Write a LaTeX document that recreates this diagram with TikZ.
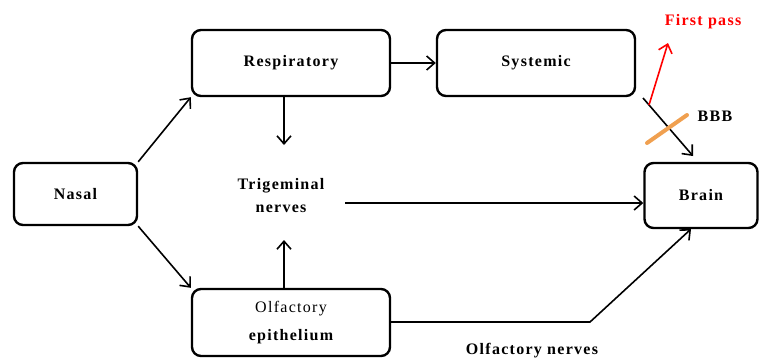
\documentclass[tikz,border=0pt]{standalone}
\usepackage{fontspec}
\setmainfont[LetterSpace=8]{Liberation Serif}
\usetikzlibrary{arrows.meta}
\begin{document}
\begin{tikzpicture}[x=1pt,y=-1pt,
  box/.style={draw,line width=2.4pt,rounded corners=9pt,font=\bfseries\fontsize{16}{18}\selectfont},
  conn/.style={line width=1.6pt,-{Straight Barb[length=8pt,width=14pt,line width=1.6pt]}},
  lbl/.style={font=\bfseries\fontsize{16}{18}\selectfont,inner sep=0pt}]
\useasboundingbox (0,0) rectangle (759,360);
\node[box,minimum width=123pt,minimum height=62pt] (nasal) at (75.5,194) {Nasal};
\node[box,minimum width=198pt,minimum height=66pt] (resp) at (291,63) {Respiratory};
\node[box,minimum width=198pt,minimum height=66pt] (sys) at (536,63) {Systemic};
\node[box,minimum width=198pt,minimum height=67pt,align=center] (olf) at (291,322.5) {{\mdseries Olfactory}\\[10pt]epithelium};
\node[box,minimum width=113pt,minimum height=65pt] (brain) at (701,195.5) {Brain};
\node[lbl,align=center] (trig) at (281,196) {Trigeminal\\[5pt]nerves};
\node[lbl] (onl) at (532,351) {Olfactory nerves};
\node[lbl] (bbb) at (715,116) {BBB};
\node[lbl,text=red] (fp) at (703,22) {First pass};
\coordinate (trigtop) at (284,145);
\coordinate (trigbot) at (284,240);
\coordinate (trigright) at (345,203);
\coordinate (bend) at (590,322);
\coordinate (sysout) at (643,98);
\coordinate (redstart) at (649,105);
\coordinate (redend) at (668,43);
\coordinate (o1) at (647,143);
\coordinate (o2) at (687,115);
\draw[conn] (nasal.north east) -- (resp.south west);
\draw[conn] (nasal.south east) -- (olf.north west);
\draw[conn] (resp.south -| trigtop) -- (trigtop);
\draw[conn] (olf.north -| trigbot) -- (trigbot);
\draw[conn] (resp.east) -- (sys.west);
\draw[conn] (trigright) -- (trigright -| brain.west);
\draw[conn] (olf.east |- bend) -- (bend) -- (691,229);
\draw[conn] (sysout) -- (693,156);
\draw[conn,red] (redstart) -- (redend);
\draw[line width=4pt,color={rgb,255:red,240;green,160;blue,80},line cap=round] (o1) -- (o2);
\end{tikzpicture}
\end{document}
